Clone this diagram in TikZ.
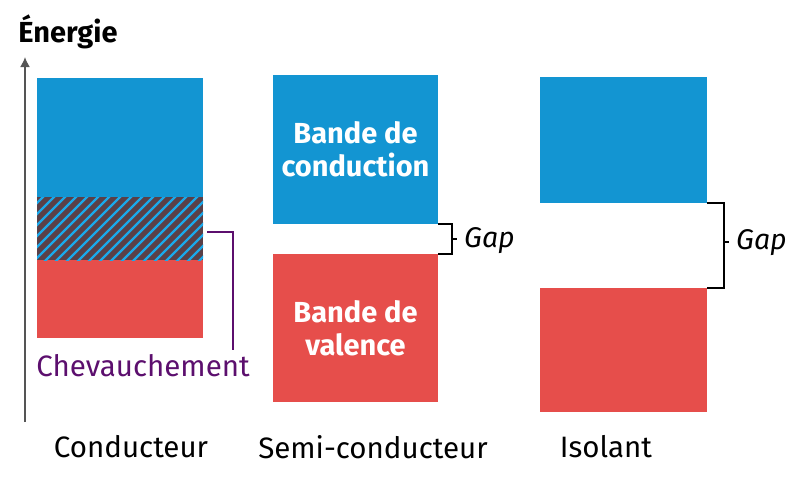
\documentclass[tikz,border=0pt]{standalone}
\usepackage{fontspec}
\setmainfont{Fira Sans}
\usetikzlibrary{arrows.meta}
\begin{document}
\begin{tikzpicture}[x=1pt,y=-1pt,
  band/.style={draw=none,inner sep=0pt,outer sep=0pt,rectangle,anchor=north west},
  lbl/.style={font=\fontsize{29.5}{32}\selectfont,text=black,inner sep=0pt},
  inlbl/.style={font=\fontsize{29}{33}\selectfont\bfseries,text=white,align=center,inner sep=0pt},
  gaplbl/.style={font=\fontsize{28.5}{30}\selectfont\itshape,inner sep=0pt,anchor=west},
  brk/.style={line width=1.8pt,black}]
\definecolor{bandblue}{HTML}{1395D2}
\definecolor{bandred}{HTML}{E64E4B}
\definecolor{purp}{HTML}{5C0F6E}
\definecolor{hatchdark}{HTML}{5A3F47}
\definecolor{hatchblue}{HTML}{1AA8EA}
\definecolor{axisgray}{HTML}{555555}
\useasboundingbox (0,0) rectangle (800,479);
% axis
\coordinate (axb) at (25,422);
\coordinate (axt) at (25,57);
\draw[axisgray,line width=1.6pt,-{Latex[length=10pt,width=10pt]}] (axb) -- (axt);
\node[font=\fontsize{29}{32}\selectfont\bfseries,inner sep=0pt] (en) at (68,32) {Énergie};
% conductor
\node[band,fill=bandblue,minimum width=166,minimum height=119] (cb) at (37,78) {};
\node[band,fill=hatchdark,minimum width=166,minimum height=63] (ch) at (37,197) {};
\node[band,fill=bandred,minimum width=166,minimum height=78] (cr) at (37,260) {};
\begin{scope}
\clip (ch.north west) rectangle (ch.south east);
\foreach \x in {-77,-66,...,220} {
  \draw[hatchblue,line width=2.2pt] (\x,262) -- (\x+67,195);
}
\end{scope}
\coordinate (chv1) at (207,232);
\coordinate (chv2) at (233,232);
\coordinate (chv3) at (233,350);
\draw[purp,line width=1.8pt] (chv1) -- (chv2) -- (chv3);
\node[lbl,text=purp] (chv) at (143,366) {Chevauchement};
\node[lbl] (lc) at (131,447) {Conducteur};
% semi-conductor
\node[band,fill=bandblue,minimum width=165,minimum height=149] (sb) at (273,75) {};
\node[band,fill=bandred,minimum width=165,minimum height=148] (sr) at (273,254) {};
\node[inlbl] at (sb.center) {Bande de\\conduction};
\node[inlbl] at (sr.center) {Bande de\\valence};
\coordinate (s1) at (452,224);
\coordinate (s2) at (452,254);
\coordinate (sm) at (452,239);
\coordinate (st) at (457,239);
\draw[brk] (sb.south east) -- (s1) -- (s2) -- (sr.north east);
\draw[brk] (sm) -- (st);
\node[gaplbl] (sg) at (464,241) {Gap};
\node[lbl] (ls) at (373,447) {Semi-conducteur};
% insulator
\node[band,fill=bandblue,minimum width=167,minimum height=126] (ib) at (540,77) {};
\node[band,fill=bandred,minimum width=167,minimum height=124] (ir) at (540,288) {};
\coordinate (i1) at (724,203);
\coordinate (i2) at (724,288);
\coordinate (im) at (724,242);
\coordinate (it) at (729,242);
\draw[brk] (ib.south east) -- (i1) -- (i2) -- (ir.north east);
\draw[brk] (im) -- (it);
\node[gaplbl] (ig) at (736,243) {Gap};
\node[lbl] (li) at (606,447) {Isolant};
\end{tikzpicture}
\end{document}
